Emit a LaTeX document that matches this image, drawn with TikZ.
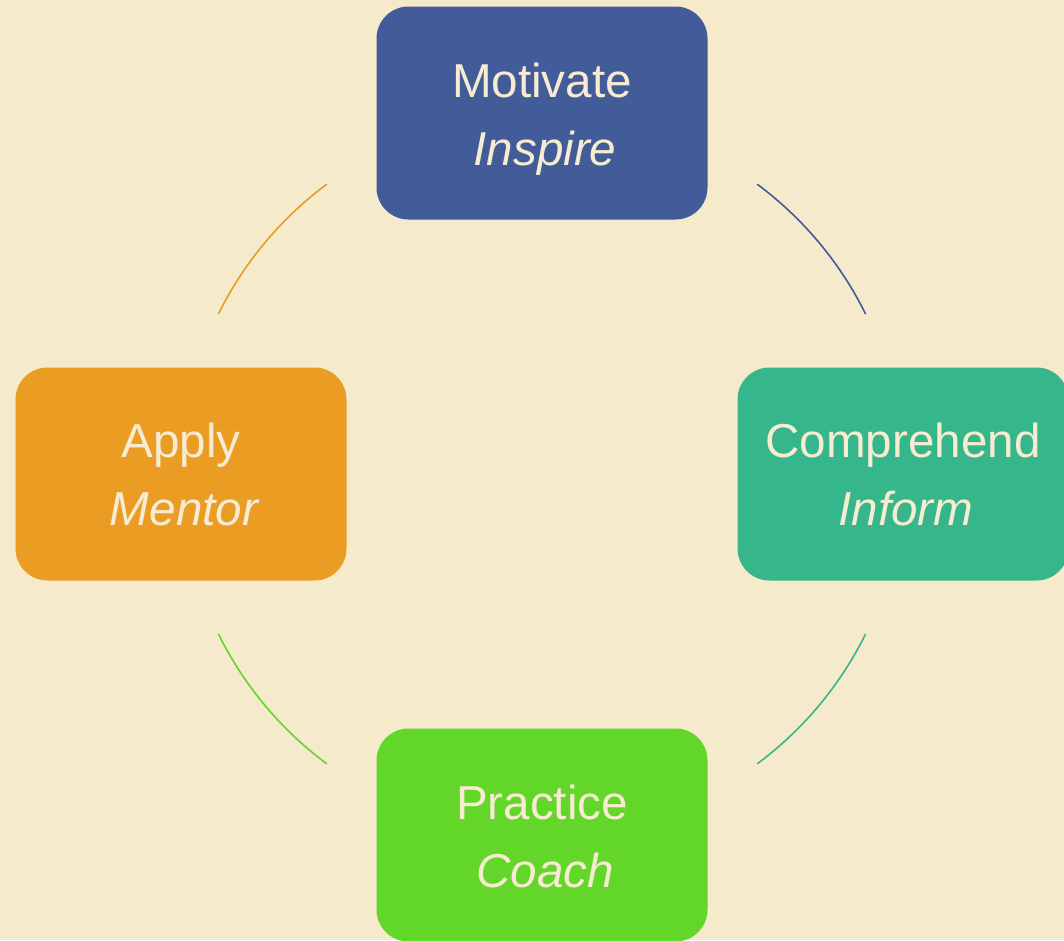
\documentclass[tikz,border=0pt]{standalone}
\usepackage{fontspec}
\setmainfont{Liberation Sans}
\begin{document}
\definecolor{paper}{HTML}{F5EACC}
\definecolor{cream}{HTML}{F7ECD2}
\definecolor{cblue}{HTML}{425C9A}
\definecolor{cteal}{HTML}{35B68B}
\definecolor{corange}{HTML}{EB9D23}
\definecolor{cgreen}{HTML}{63D62A}
\begin{tikzpicture}[x=1pt,y=1pt,
  stage/.style={rounded corners=32pt, minimum width=331pt, minimum height=213pt,
                inner sep=0pt, draw=none},
  lbl/.style={text=cream, font=\fontsize{47.6}{57}\selectfont, inner sep=0pt, anchor=base},
  sub/.style={lbl, font=\fontsize{47.6}{57}\selectfont\itshape, xshift=3pt},
  link/.style={line width=1.6pt}]
  % canvas
  \fill[paper] (0,0) rectangle (1064,-940);
  \useasboundingbox (0,0) rectangle (1064,-940);
  \clip (0,0) rectangle (1064,-940);

  % cycle centre
  \coordinate (c) at (542,-474);

  % stages
  \node[stage, fill=cblue]   (mot) at (542,-113) {};
  \node[stage, fill=cteal]   (com) at (903,-474) {};
  \node[stage, fill=cgreen]  (pra) at (542,-835) {};
  \node[stage, fill=corange] (app) at (181,-474) {};

  % stage titles
  \node[lbl, yshift=16pt]  (mot-a) at (mot.center) {Motivate};
  \node[sub, yshift=-52pt] (mot-b) at (mot.center) {Inspire};
  \node[lbl, yshift=17pt]  (com-a) at (com.center) {Comprehend};
  \node[sub, yshift=-51pt] (com-b) at (com.center) {Inform};
  \node[lbl, yshift=16pt]  (pra-a) at (pra.center) {Practice};
  \node[sub, yshift=-52pt] (pra-b) at (pra.center) {Coach};
  \node[lbl, yshift=17pt]  (app-a) at (app.center) {Apply};
  \node[sub, yshift=-51pt] (app-b) at (app.center) {Mentor};

  % connecting arcs of the cycle
  \draw[link, cblue]   ([shift={(53.4:361pt)}]c)  arc[start angle=53.4,  end angle=26.3,  radius=361pt];
  \draw[link, cteal]   ([shift={(-26.3:361pt)}]c) arc[start angle=-26.3, end angle=-53.4, radius=361pt];
  \draw[link, cgreen]  ([shift={(233.4:361pt)}]c) arc[start angle=233.4, end angle=206.3, radius=361pt];
  \draw[link, corange] ([shift={(153.7:361pt)}]c) arc[start angle=153.7, end angle=126.6, radius=361pt];
\end{tikzpicture}
\end{document}
